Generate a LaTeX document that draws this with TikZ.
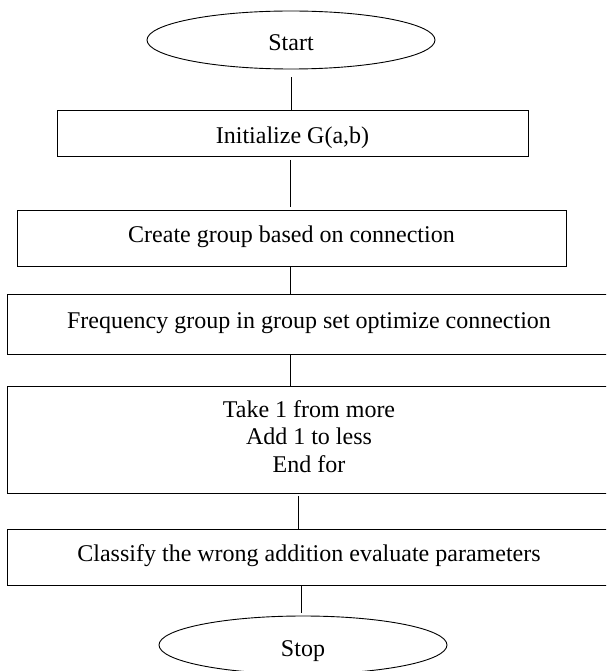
\documentclass[tikz,border=0pt]{standalone}
\usepackage{fontspec}
\setmainfont{Liberation Serif}
\usetikzlibrary{shapes.geometric}
\begin{document}
\begin{tikzpicture}[x=1pt,y=-1pt,
  every node/.style={font=\fontsize{24}{27.8}\selectfont},
  term/.style={draw, ellipse, minimum width=288pt, minimum height=58pt, inner sep=0pt, line width=0.9pt, text height=22pt, text depth=0pt},
  procbox/.style={draw, rectangle, inner sep=0pt, line width=0.9pt, text height=16pt, text depth=8pt},
  multibox/.style={draw, rectangle, inner sep=0pt, line width=0.9pt, align=center},
  link/.style={line width=0.9pt}]
\useasboundingbox (0,0) rectangle (606,671);
\clip (0,0) rectangle (606,671);
\node[term] (start) at (291,40) {Start};
\node[procbox, minimum width=471pt, minimum height=46pt, text height=20pt, text depth=0pt] (b1) at (292.5,133.5) {Initialize G(a,b)};
\node[procbox, minimum width=549pt, minimum height=56pt] (b2) at (291.5,238) {Create group based on connection};
\node[procbox, minimum width=604pt, minimum height=60pt] (b3) at (309,324) {Frequency group in group set optimize connection};
\node[multibox, minimum width=604pt, minimum height=107pt] (b4) at (309,439.5) {Take 1 from more\\Add 1 to less\\End for\rule[-6pt]{0pt}{6pt}};
\node[procbox, minimum width=604pt, minimum height=56pt] (b5) at (309,557) {Classify the wrong addition evaluate parameters};
\node[term] (stop) at (303,645) {Stop};
\draw[link, shorten <=8pt] (start.south) -- (start.south |- b1.north);
\draw[link, shorten <=3pt, shorten >=3pt] ([xshift=-2pt]b1.south) -- ([xshift=-2pt]b1.south |- b2.north);
\draw[link] ([xshift=-1pt]b2.south) -- ([xshift=-1pt]b2.south |- b3.north);
\draw[link] ([xshift=-18.3pt]b3.south) -- ([xshift=-18.3pt]b3.south |- b4.north);
\draw[link, shorten <=3pt] ([xshift=-11pt]b4.south) -- ([xshift=-11pt]b4.south |- b5.north);
\draw[link, shorten >=3pt] ([xshift=-8pt]b5.south) -- ([xshift=-8pt]b5.south |- stop.north);
\end{tikzpicture}
\end{document}
